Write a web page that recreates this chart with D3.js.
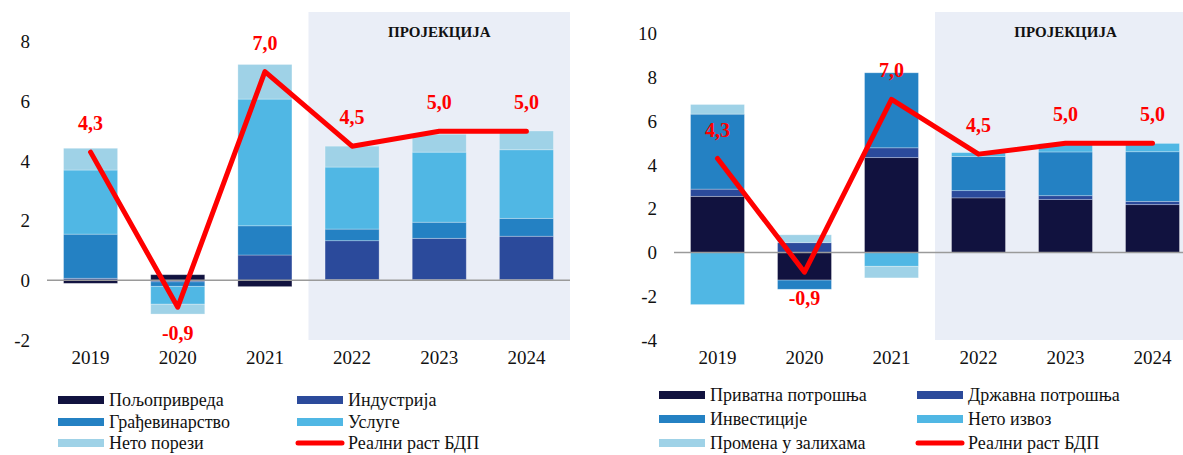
<!DOCTYPE html>
<html>
<head>
<meta charset="utf-8">
<script src="https://cdn.jsdelivr.net/npm/d3@7"></script>
<style>
  body { margin: 0; background: #fff; }
  svg { display: block; }
</style>
</head>
<body>
<svg id="chart" width="1183" height="455"></svg>
<script>
const years = ["2019", "2020", "2021", "2022", "2023", "2024"];
const projectionYears = ["2022", "2023", "2024"];

// left panel: GDP growth by production side (pp)
const agriculture = [-0.10, 0.19, -0.21, 0.03, 0.03, 0.03];
const industry = [0.07, -0.05, 0.85, 1.30, 1.38, 1.45];
const construction = [1.48, -0.15, 0.98, 0.39, 0.54, 0.60];
const services = [2.15, -0.60, 4.25, 2.08, 2.35, 2.30];
const netTaxes = [0.73, -0.33, 1.16, 0.70, 0.60, 0.63];

// right panel: GDP growth by expenditure side (pp)
const privateConsumption = [2.57, -1.26, 4.34, 2.50, 2.42, 2.19];
const governmentConsumption = [0.33, 0.45, 0.45, 0.33, 0.18, 0.15];
const investment = [3.43, -0.42, 3.43, 1.56, 2.00, 2.27];
const netExports = [-2.38, 0.00, -0.63, 0.18, 0.38, 0.38];
const inventories = [0.44, 0.36, -0.53, 0.00, 0.00, 0.00];

const realGdpGrowth = [4.3, -0.9, 7.0, 4.5, 5.0, 5.0];

const leftTicks = [-2, 0, 2, 4, 6, 8];
const rightTicks = [-4, -2, 0, 2, 4, 6, 8, 10];

const colors = ["#11123f", "#2b4a9b", "#2481c3", "#50b7e4", "#9fd2e7"];
const red = "#ff0000";
const FONT = "Liberation Serif";

const svg = d3.select("#chart");

// plain hyphen instead of d3's unicode minus, comma decimals
const fmtTick = d => String(d);
const fmtGdp = d => d.toFixed(1).replace(".", ",");

/*
   draws one panel: stacked contributions + red GDP line
*/
function drawPanel(cfg) {
    const g = svg.append("g");

    const x = d3.scaleBand()
        .domain(years)
        .range([cfg.left, cfg.right])
        .paddingInner(0.38)
        .paddingOuter(0.19);

    const y = d3.scaleLinear()
        .domain(cfg.domain)
        .range([340, 12]);

    const step = x.step();

    // projection shading
    const shadeX = x(projectionYears[0]) + x.bandwidth() / 2 - step / 2;
    g.append("rect")
        .attr("x", shadeX)
        .attr("y", y(cfg.domain[1]))
        .attr("width", cfg.right - shadeX)
        .attr("height", y(cfg.domain[0]) - y(cfg.domain[1]))
        .attr("fill", "#eaeef7");

    g.append("text")
        .attr("x", x("2023") + x.bandwidth() / 2)
        .attr("y", 37)
        .attr("text-anchor", "middle")
        .style("font-family", FONT)
        .style("font-size", "15px")
        .style("font-weight", "bold")
        .attr("fill", "#111")
        .text("ПРОЈЕКЦИЈА");

    // stacked bars
    const rows = years.map((yr, i) => {
        const r = {year: yr};
        cfg.series.forEach((s, j) => r[j] = s[i]);
        return r;
    });
    const stack = d3.stack()
        .keys(cfg.series.map((s, j) => j))
        .offset(d3.stackOffsetDiverging);

    g.selectAll(".layer")
        .data(stack(rows))
        .join("g")
        .attr("fill", (d, j) => colors[j])
        .selectAll("rect")
        .data(d => d)
        .join("rect")
        .attr("x", d => x(d.data.year))
        .attr("y", d => y(Math.max(d[0], d[1])))
        .attr("width", x.bandwidth())
        .attr("height", d => Math.abs(y(d[0]) - y(d[1])))
        .attr("stroke", "rgba(255,255,255,0.35)")
        .attr("stroke-width", 0.8);

    // zero line
    g.append("line")
        .attr("x1", cfg.left)
        .attr("x2", cfg.right)
        .attr("y1", y(0))
        .attr("y2", y(0))
        .attr("stroke", "#9a9a9a")
        .attr("stroke-width", 1.5);

    // y axis labels (no axis line)
    const yAxis = d3.axisLeft(y)
        .tickValues(cfg.ticks)
        .tickSize(0)
        .tickPadding(0)
        .tickFormat(fmtTick);
    g.append("g")
        .attr("transform", `translate(${cfg.left - cfg.tickGap},0)`)
        .call(yAxis)
        .call(a => a.select(".domain").remove())
        .selectAll("text")
        .style("font-family", FONT)
        .style("font-size", "19px")
        .attr("fill", "#111");

    // x axis labels
    const xAxis = d3.axisBottom(x).tickSize(0).tickPadding(0);
    g.append("g")
        .attr("transform", "translate(0,350)")
        .call(xAxis)
        .call(a => a.select(".domain").remove())
        .selectAll("text")
        .style("font-family", FONT)
        .style("font-size", "19px")
        .attr("fill", "#111");

    // real GDP growth line
    const line = d3.line()
        .x((d, i) => x(years[i]) + x.bandwidth() / 2)
        .y(d => y(d));
    g.append("path")
        .datum(realGdpGrowth)
        .attr("d", line)
        .attr("fill", "none")
        .attr("stroke", red)
        .attr("stroke-width", 5)
        .attr("stroke-linecap", "round")
        .attr("stroke-linejoin", "round");

    g.selectAll(".gdpLabel")
        .data(realGdpGrowth)
        .join("text")
        .attr("class", "gdpLabel")
        .attr("x", (d, i) => x(years[i]) + x.bandwidth() / 2)
        .attr("y", d => d < 0 ? y(d) + 33 : y(d) - 22)
        .attr("text-anchor", "middle")
        .style("font-family", FONT)
        .style("font-size", "20px")
        .style("font-weight", "bold")
        .attr("fill", red)
        .text(fmtGdp);

    // legend
    const legend = g.append("g");
    cfg.legend.forEach(item => {
        const lx = cfg.legendX[item.col];
        const ly = cfg.legendY[item.row];
        if (item.line) {
            legend.append("line")
                .attr("x1", lx + 1).attr("x2", lx + 45)
                .attr("y1", ly).attr("y2", ly)
                .attr("stroke", red)
                .attr("stroke-width", 5)
                .attr("stroke-linecap", "round");
        } else {
            legend.append("rect")
                .attr("x", lx).attr("y", ly - 4)
                .attr("width", 46).attr("height", 8)
                .attr("fill", colors[item.color]);
        }
        legend.append("text")
            .attr("x", lx + 51)
            .attr("y", ly)
            .attr("dy", "0.35em")
            .style("font-family", FONT)
            .style("font-size", "18px")
            .attr("fill", "#111")
            .text(item.name);
    });
}

drawPanel({
    left: 47, right: 570,
    domain: [-2, 9],
    ticks: leftTicks,
    tickGap: 17,
    series: [agriculture, industry, construction, services, netTaxes],
    legendX: [58, 297],
    legendY: [400, 422, 443],
    legend: [
        {name: "Пољопривреда", color: 0, col: 0, row: 0},
        {name: "Индустрија", color: 1, col: 1, row: 0},
        {name: "Грађевинарство", color: 2, col: 0, row: 1},
        {name: "Услуге", color: 3, col: 1, row: 1},
        {name: "Нето порези", color: 4, col: 0, row: 2},
        {name: "Реални раст БДП", line: true, col: 1, row: 2}
    ]
});

drawPanel({
    left: 674, right: 1196,
    domain: [-4, 11],
    ticks: rightTicks,
    tickGap: 17,
    series: [privateConsumption, governmentConsumption, investment, netExports, inventories],
    legendX: [659, 917],
    legendY: [395, 419, 443],
    legend: [
        {name: "Приватна потрошња", color: 0, col: 0, row: 0},
        {name: "Државна потрошња", color: 1, col: 1, row: 0},
        {name: "Инвестиције", color: 2, col: 0, row: 1},
        {name: "Нето извоз", color: 3, col: 1, row: 1},
        {name: "Промена у залихама", color: 4, col: 0, row: 2},
        {name: "Реални раст БДП", line: true, col: 1, row: 2}
    ]
});
</script>
</body>
</html>
